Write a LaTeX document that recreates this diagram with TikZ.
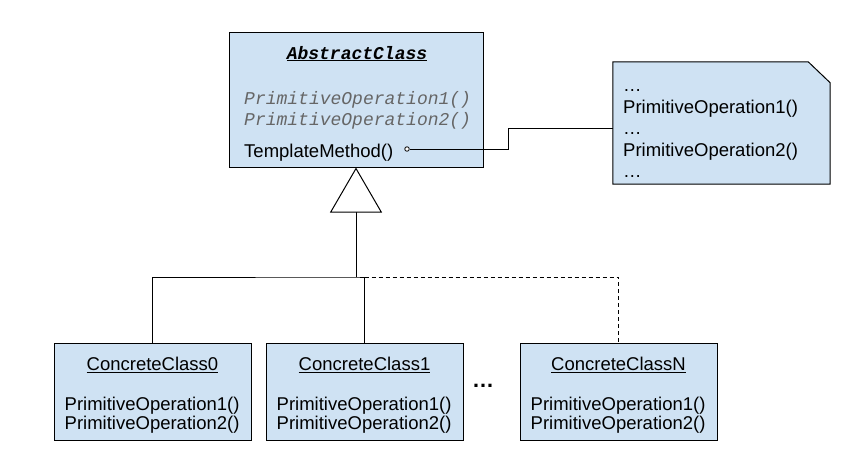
\documentclass[tikz,border=0pt]{standalone}
\usepackage{fontspec}
\setmainfont{Liberation Sans}
\newfontfamily\umlmono{Liberation Mono}
\usetikzlibrary{arrows.meta}
\definecolor{boxfill}{HTML}{CFE2F3}
\definecolor{absgray}{HTML}{666666}
\begin{document}
\begin{tikzpicture}[x=1pt,y=-1pt,
  every node/.style={font=\fontsize{18.5}{21}\selectfont},
  classbox/.style={draw=black, fill=boxfill, line width=1pt, inner sep=0pt, rectangle},
  txt/.style={inner sep=0pt, anchor=base west},
  ctxt/.style={inner sep=0pt, anchor=base},
  monotxt/.style={txt, font=\fontsize{18}{21}\selectfont\umlmono},
  link/.style={line width=1pt},
  optional/.style={link, dash pattern=on 4pt off 3pt},
]
\useasboundingbox[fill=white] (0,0) rectangle (853,472);

% abstract class
\node[classbox, minimum width=254pt, minimum height=135pt] (abs) at (356,99.5) {};
\node[ctxt, font=\fontsize{18}{21}\selectfont\umlmono] (absname) at (357,59) {\bfseries\itshape\underline{AbstractClass}};
\node[monotxt, text=absgray] (absop1) at (244,104) {\itshape PrimitiveOperation1()};
\node[monotxt, text=absgray] (absop2) at (244,125) {\itshape PrimitiveOperation2()};
\node[txt] (tmpl) at (244,157) {TemplateMethod()};
\node[circle, draw, fill=white, line width=0.8pt, inner sep=0pt, minimum size=4.5pt] (hook) at (407,149) {};

% note with the body of the template method
\node[inner sep=0pt, minimum width=217pt, minimum height=122pt] (note) at (721.5,123) {};
\draw[fill=boxfill, line width=1pt] (note.south west) -- (note.north west)
  -- ([xshift=-22pt]note.north east) -- ([yshift=-21pt]note.north east)
  -- (note.south east) -- cycle;
\node[txt] (n1) at (623,91) {…};
\node[txt] (n2) at (623,113) {PrimitiveOperation1()};
\node[txt] (n3) at (623,134) {…};
\node[txt] (n4) at (623,156) {PrimitiveOperation2()};
\node[txt] (n5) at (623,177) {…};
\coordinate (bend) at (508,149);
\draw[link] (hook.east) -- (bend) |- ([yshift=-5pt]note.west);

% concrete classes
\node[classbox, minimum width=197pt, minimum height=97pt] (c0) at (152.5,391.5) {};
\node[classbox, minimum width=197pt, minimum height=97pt] (c1) at (364.5,391.5) {};
\node[classbox, minimum width=197pt, minimum height=97pt] (cN) at (618.5,391.5) {};
\foreach \n/\t in {c0/ConcreteClass0, c1/ConcreteClass1, cN/ConcreteClassN} {
  \node[ctxt] (\n-name) at ([yshift=-28pt]\n.north) {\underline{\t}};
  \node[txt] (\n-op1) at ([xshift=11pt, yshift=-68pt]\n.north west) {PrimitiveOperation1()};
  \node[txt] (\n-op2) at ([xshift=11pt, yshift=-87pt]\n.north west) {PrimitiveOperation2()};
}
\node[ctxt, font=\fontsize{22}{24}\selectfont\bfseries] (more) at (483,387) {…};

% generalization
\coordinate (fork) at (356,277);
\draw[link, -{Triangle[open, length=45pt, width=52pt, fill=white]}] (fork) -- (abs.south);
\draw[link] (c0.north) |- (fork) -| (c1.north);
\draw[optional] (c1.north |- fork) -| (cN.north);
\end{tikzpicture}
\end{document}
